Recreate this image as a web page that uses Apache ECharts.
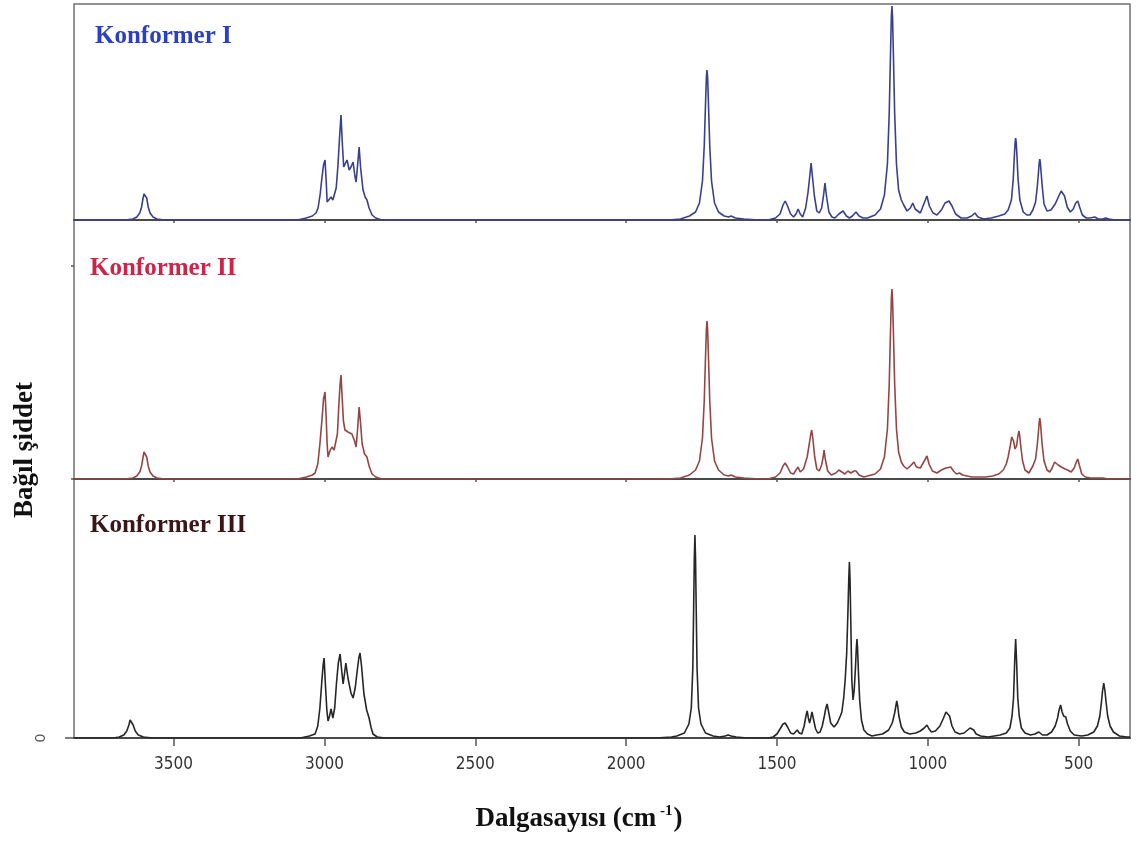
<!DOCTYPE html>
<html>
<head>
<meta charset="utf-8">
<script src="https://cdn.jsdelivr.net/npm/echarts@6/dist/echarts.min.js"></script>
<style>
  html, body { margin: 0; padding: 0; background: #ffffff; }
  #chart { width: 1137px; height: 843px; }
</style>
</head>
<body>
<div id="chart"></div>
<script>
// Simulated IR spectra of three conformers, relative intensity (arbitrary units)
const conformers = ['Konformer I', 'Konformer II', 'Konformer III'];
const wavenumberTicks = [500, 1000, 1500, 2000, 2500, 3000, 3500];
const wavenumberRange = [330, 3830];
const intensityMax = [216, 259, 259];

// [wavenumber (cm-1), intensity]
const spectrumI = [
  [3830,0],[3660,0],[3635,1],[3622,3],[3612,7],[3606,13],[3601,22],[3598,26],[3595,28],[3592,26],[3589,22],[3584,13],[3578,7],[3568,3],[3555,1],[3530,0],
  [3090,0],[3060,2],[3040,4],[3028,7],[3021,12],[3014,26],[3008,43],[3003,55],[2998,60],[2994,38],[2991,18],[2985,20],[2978,23],[2972,20],[2966,22],[2961,32],[2955,55],[2950,82],[2945,105],[2941,78],[2936,53],[2930,57],[2925,60],[2918,50],[2912,53],[2905,58],[2899,44],[2895,38],[2890,55],[2885,73],[2880,52],[2872,30],[2865,23],[2859,20],[2852,12],[2842,5],[2830,2],[2810,0],
  [1860,0],[1820,1],[1790,4],[1770,8],[1757,17],[1747,39],[1741,75],[1737,115],[1734,143],[1732,150],[1730,143],[1727,115],[1723,75],[1717,39],[1707,17],[1694,8],[1675,4],[1660,3],[1652,4],[1646,4],[1638,2],[1610,1],[1560,0],
  [1530,0],[1505,2],[1490,6],[1480,15],[1473,19],[1465,14],[1455,6],[1445,3],[1437,6],[1430,11],[1423,6],[1415,3],[1405,12],[1397,28],[1392,42],[1387,57],[1382,42],[1376,24],[1368,9],[1360,7],[1352,12],[1346,24],[1341,37],[1336,24],[1328,8],[1318,3],[1308,2],[1295,6],[1281,9],[1270,4],[1260,2],[1250,4],[1238,8],[1228,4],[1215,2],
  [1200,2],[1175,5],[1157,11],[1144,25],[1134,56],[1128,107],[1124,163],[1121,203],[1119,214],[1117,203],[1114,163],[1110,107],[1104,56],[1097,30],[1088,20],[1080,15],[1069,9],[1058,12],[1050,17],[1042,11],[1025,7],[1012,17],[1003,24],[995,14],[983,7],[970,5],[955,10],[943,17],[930,19],[920,14],[908,6],[890,2],[870,2],[855,4],[844,7],[834,3],[815,1],[790,2],
  [765,4],[745,6],[734,10],[723,20],[717,41],[713,66],[711,77],[709,82],[707,77],[705,66],[701,41],[695,20],[684,8],[672,5],[662,5],[652,10],[643,18],[637,34],[633,49],[631,57],[629,61],[627,57],[625,49],[621,34],[615,16],[605,9],[592,10],[578,16],[566,24],[558,29],[553,30],[547,24],[538,13],[528,8],[518,11],[510,17],[503,19],[497,13],[488,5],[475,2],[462,2],[447,3],[435,1],[420,1],[411,2],[400,1],[380,0],[330,0]
];

const spectrumII = [
  [3830,0],[3660,0],[3635,1],[3622,3],[3612,7],[3606,13],[3601,22],[3598,27],[3595,29],[3592,27],[3589,22],[3584,13],[3578,7],[3568,3],[3555,1],[3530,0],
  [3090,0],[3060,2],[3040,4],[3031,6],[3022,15],[3015,35],[3008,60],[3003,80],[2998,87],[2994,60],[2991,35],[2988,22],[2982,28],[2975,32],[2968,29],[2962,27],[2957,45],[2952,75],[2948,95],[2945,104],[2941,80],[2937,58],[2932,49],[2922,47],[2909,45],[2900,38],[2895,32],[2890,50],[2885,72],[2880,55],[2875,35],[2867,25],[2859,22],[2852,13],[2842,5],[2830,2],[2810,0],
  [1860,0],[1820,1],[1790,4],[1770,9],[1757,18],[1747,41],[1741,79],[1737,121],[1734,150],[1732,158],[1730,150],[1727,121],[1723,79],[1717,41],[1707,18],[1694,9],[1675,4],[1660,3],[1652,4],[1646,4],[1638,2],[1610,1],[1560,0],
  [1530,0],[1505,2],[1490,6],[1480,13],[1473,16],[1465,12],[1455,6],[1445,5],[1437,9],[1430,12],[1423,7],[1412,10],[1400,22],[1393,35],[1388,45],[1385,49],[1381,40],[1375,22],[1368,10],[1360,8],[1352,14],[1347,22],[1344,29],[1340,20],[1332,8],[1320,4],[1305,6],[1295,9],[1285,7],[1275,5],[1265,8],[1255,6],[1245,8],[1238,8],[1228,4],[1212,2],
  [1200,3],[1175,5],[1157,10],[1144,22],[1134,50],[1128,95],[1124,145],[1121,180],[1119,190],[1117,180],[1114,145],[1110,95],[1104,50],[1097,27],[1088,17],[1080,13],[1069,10],[1058,13],[1046,17],[1038,12],[1025,11],[1012,18],[1003,23],[996,15],[985,8],[970,6],[955,9],[940,11],[924,12],[915,8],[905,5],[895,6],[885,4],[870,3],[855,2],[835,2],[810,2],[785,3],
  [765,5],[750,9],[740,15],[734,22],[727,33],[722,42],[720,44],[716,38],[711,30],[709,29],[706,33],[702,42],[698,48],[695,42],[691,30],[686,18],[678,9],[665,6],[652,13],[643,20],[637,35],[633,49],[631,57],[629,61],[627,57],[625,49],[621,34],[615,18],[605,9],[596,7],[588,11],[580,17],[575,19],[568,14],[558,12],[545,10],[537,9],[525,7],[515,11],[508,17],[503,20],[498,14],[490,5],[478,2],[460,1],[440,1],[420,1],[400,0],[330,0]
];

const spectrumIII = [
  [3830,0],[3700,0],[3680,1],[3665,3],[3655,7],[3648,13],[3644,18],[3641,20],[3638,18],[3634,13],[3627,7],[3617,3],[3600,1],[3570,0],
  [3080,0],[3050,2],[3031,4],[3022,12],[3015,30],[3009,55],[3004,74],[3001,80],[2997,55],[2992,28],[2988,17],[2983,22],[2978,29],[2972,20],[2966,30],[2960,55],[2954,75],[2948,84],[2943,68],[2938,54],[2934,63],[2929,75],[2922,60],[2912,45],[2905,40],[2898,50],[2891,68],[2886,80],[2882,85],[2877,72],[2869,44],[2860,28],[2852,20],[2845,10],[2839,4],[2825,1],[2800,0],
  [1900,0],[1850,1],[1832,2],[1807,5],[1792,14],[1784,30],[1779,70],[1776,135],[1774,180],[1772,203],[1770,180],[1768,135],[1765,70],[1760,30],[1752,14],[1737,5],[1712,2],[1690,1],[1672,2],[1662,3],[1652,2],[1635,1],[1600,0],
  [1530,0],[1513,1],[1500,4],[1490,9],[1480,14],[1473,15],[1465,11],[1455,5],[1445,4],[1440,6],[1433,8],[1426,5],[1418,4],[1410,12],[1404,22],[1400,27],[1396,20],[1392,15],[1388,20],[1384,26],[1380,20],[1372,9],[1365,5],[1357,6],[1350,12],[1343,22],[1338,30],[1334,34],[1330,28],[1322,15],[1311,11],[1300,15],[1290,22],[1285,26],[1279,40],[1274,58],[1269,85],[1265,125],[1262,160],[1260,176],[1258,160],[1255,110],[1252,58],[1248,38],[1244,48],[1240,70],[1237,90],[1235,99],[1233,90],[1230,65],[1226,38],[1220,18],[1212,8],[1200,4],[1185,2],
  [1170,3],[1150,4],[1130,8],[1118,15],[1110,25],[1106,32],[1103,37],[1100,32],[1096,22],[1088,11],[1078,6],[1060,4],[1040,5],[1025,7],[1012,10],[1003,13],[996,9],[988,6],[975,7],[960,12],[948,20],[940,26],[934,27],[928,22],[920,12],[910,6],[895,4],[880,5],[868,8],[860,10],[854,11],[848,8],[840,4],[825,2],[800,1],[780,2],
  [760,3],[740,5],[728,10],[721,22],[716,40],[712,78],[709,99],[706,78],[702,40],[697,22],[690,10],[678,5],[660,3],[645,4],[632,6],[620,3],[605,3],[590,6],[578,12],[570,20],[565,28],[560,33],[555,26],[550,22],[543,21],[537,14],[528,7],[515,3],[490,2],[470,3],[450,6],[438,12],[430,22],[425,35],[421,47],[417,55],[413,47],[409,35],[404,22],[396,12],[385,6],[365,2],[340,1],[330,1]
];

const spectra = [spectrumI, spectrumII, spectrumIII];

// Panel layout and styling
const panelTop = [4, 220, 479];
const panelHeight = [216, 259, 259];
const lineColors = ['#3a3f8e', '#964545', '#262626'];
const titleColors = ['#2a3ec6', '#cf2348', '#3b1619'];
const titleTop = [24, 256, 513];
const titleLeft = [95, 90, 90];
const serif = '"Liberation Serif", "Times New Roman", serif';
const narrowSans = '"Liberation Sans Narrow", "Arial Narrow", "DejaVu Sans Condensed", sans-serif';

const chart = echarts.init(document.getElementById('chart'), null, { renderer: 'canvas' });

const grids = [], xAxes = [], yAxes = [], series = [], titles = [];
for (let i = 0; i < 3; i++) {
  const last = i === 2;
  grids.push({
    left: 74, right: 7, top: panelTop[i], height: panelHeight[i],
    show: true, borderColor: '#707070', borderWidth: 1.5, containLabel: false
  });
  xAxes.push({
    type: 'value', gridIndex: i,
    min: wavenumberRange[0], max: wavenumberRange[1], inverse: true,
    axisLine: { show: true, onZero: false, lineStyle: { color: '#4a4a4a', width: 2 } },
    axisTick: { show: true, customValues: wavenumberTicks, length: last ? 8 : 3, lineStyle: { color: '#555', width: 1.5 } },
    axisLabel: {
      show: last, customValues: wavenumberTicks, margin: 18,
      color: '#333', fontSize: 17, fontFamily: narrowSans,
      formatter: (v) => String(v)
    },
    splitLine: { show: false },
    name: last ? '{a|Dalgasayısı (cm}{s| -1}{a|)}' : '',
    nameLocation: 'middle', nameGap: 66,
    nameTextStyle: {
      padding: [0, 46, 0, 0],
      rich: {
        a: { fontFamily: serif, fontWeight: 'bold', fontSize: 27, color: '#111', lineHeight: 30 },
        s: { fontFamily: serif, fontWeight: 'bold', fontSize: 15, color: '#111', verticalAlign: 'top', lineHeight: 30, padding: [0, 1, 12, 0] }
      }
    }
  });
  yAxes.push({
    type: 'value', gridIndex: i, min: 0, max: intensityMax[i],
    axisLine: { show: false },
    axisTick: {
      show: i > 0, inside: false,
      customValues: last ? [0] : [0, 213],
      length: last ? 9 : 3, lineStyle: { color: '#555', width: 1.5 }
    },
    axisLabel: {
      show: last, customValues: [0], rotate: 90, margin: 26,
      color: '#555', fontSize: 15, fontFamily: '"Liberation Sans", sans-serif'
    },
    splitLine: { show: false }
  });
  series.push({
    type: 'line', name: conformers[i], xAxisIndex: i, yAxisIndex: i,
    data: spectra[i], showSymbol: false, symbol: 'none', smooth: false,
    lineStyle: { color: lineColors[i], width: 1.6 }, clip: true
  });
  titles.push({
    text: conformers[i], left: titleLeft[i], top: titleTop[i], padding: 0,
    textStyle: { color: titleColors[i], fontFamily: serif, fontWeight: 'bold', fontSize: 25 }
  });
}

chart.setOption({
  animation: false,
  backgroundColor: '#ffffff',
  title: titles,
  grid: grids,
  xAxis: xAxes,
  yAxis: yAxes,
  series: series,
  graphic: [{
    type: 'text', x: 25, y: 450, rotation: Math.PI / 2,
    style: {
      text: 'Bağıl şiddet', fill: '#111',
      font: 'bold 27px "Liberation Serif", "Times New Roman", serif',
      align: 'center', verticalAlign: 'middle'
    }
  }]
});
</script>
</body>
</html>
